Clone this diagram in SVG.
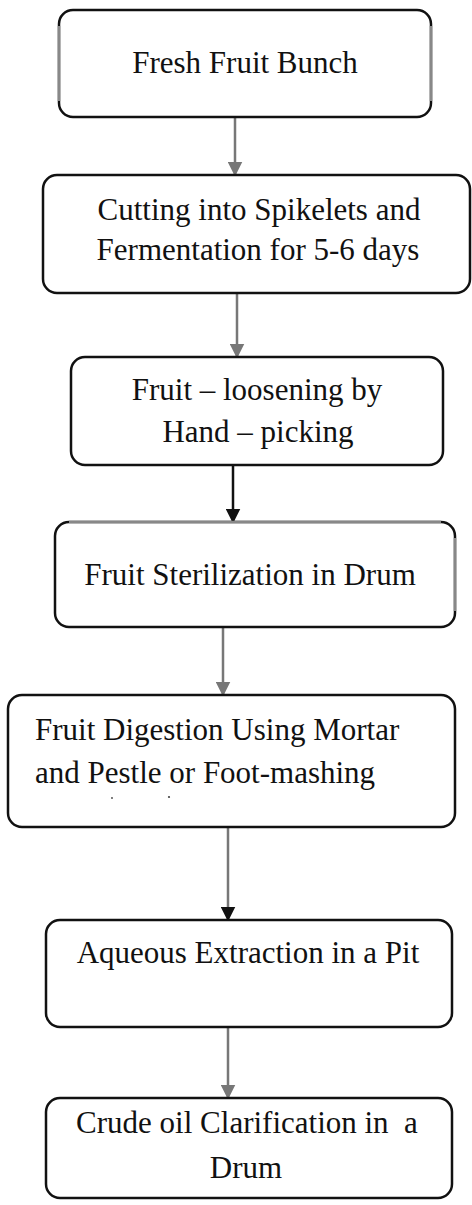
<svg xmlns="http://www.w3.org/2000/svg" width="472" height="1205" viewBox="0 0 472 1205">
<style>
.box{fill:#fff;stroke:#111;stroke-width:2.5}
.t{font-family:"Liberation Serif","Times New Roman",serif;font-size:31px;fill:#111}
.c{text-anchor:middle}
.g{stroke:#777;stroke-width:2.5;fill:none}
.k{stroke:#111;stroke-width:2.5;fill:none}
.side{stroke:#888;stroke-width:2.5;fill:none}
</style>
<defs>
<marker id="ag" markerWidth="6" markerHeight="6" refX="5" refY="3" orient="auto" markerUnits="strokeWidth" viewBox="0 0 6 6"><path d="M0,0 L6,3 L0,6 Z" fill="#777"/></marker>
<marker id="ak" markerWidth="6" markerHeight="6" refX="5" refY="3" orient="auto" markerUnits="strokeWidth" viewBox="0 0 6 6"><path d="M0,0 L6,3 L0,6 Z" fill="#111"/></marker>
</defs>
<rect width="472" height="1205" fill="#fff"/>
<g id="connectors">
<line class="g" x1="235" y1="117" x2="235" y2="174" marker-end="url(#ag)"/>
<line class="g" x1="237" y1="293" x2="237" y2="356" marker-end="url(#ag)"/>
<line class="k" x1="233" y1="465" x2="233" y2="521" marker-end="url(#ak)"/>
<line class="g" x1="223" y1="627" x2="223" y2="694" marker-end="url(#ag)"/>
<line class="g" x1="228" y1="827" x2="228" y2="905"/>
<line class="g" x1="228" y1="905" x2="228" y2="919" marker-end="url(#ak)"/>
<line class="g" x1="228" y1="1027" x2="228" y2="1097" marker-end="url(#ag)"/>
</g>
<g id="n1">
<rect class="box" x="59" y="10" width="372" height="107" rx="14"/>
<line class="side" x1="59" y1="26" x2="59" y2="101"/>
<line class="side" x1="431" y1="26" x2="431" y2="101"/>
<text class="t c" x="245" y="73">Fresh Fruit Bunch</text>
</g>
<g id="n2">
<rect class="box" x="43" y="175" width="427" height="118" rx="14"/>
<text class="t c" x="259" y="220">Cutting into Spikelets and</text>
<text class="t c" x="258" y="260">Fermentation for 5-6 days</text>
</g>
<g id="n3">
<rect class="box" x="71" y="357" width="372" height="108" rx="14"/>
<text class="t c" x="257" y="400">Fruit – loosening by</text>
<text class="t c" x="258" y="442">Hand – picking</text>
</g>
<g id="n4">
<rect class="box" x="55" y="522" width="400" height="105" rx="14"/>
<line class="side" x1="69" y1="522" x2="441" y2="522"/>
<line class="side" x1="455" y1="538" x2="455" y2="611"/>
<text class="t c" x="250" y="585">Fruit Sterilization in Drum</text>
</g>
<g id="n5">
<rect class="box" x="8" y="695" width="447" height="132" rx="14"/>
<text class="t" x="35" y="740">Fruit Digestion Using Mortar</text>
<text class="t" x="35" y="783">and Pestle or Foot-mashing</text>
<circle cx="112" cy="798" r="0.9" fill="#444"/>
<circle cx="169" cy="797" r="1.1" fill="#444"/>
</g>
<g id="n6">
<rect class="box" x="46" y="920" width="406" height="107" rx="14"/>
<text class="t c" x="248" y="963">Aqueous Extraction in a Pit</text>
</g>
<g id="n7">
<rect class="box" x="46" y="1098" width="406" height="100" rx="14"/>
<text class="t c" x="247" y="1133" style="white-space:pre">Crude oil Clarification in  a</text>
<text class="t c" x="246" y="1178">Drum</text>
</g>
</svg>
